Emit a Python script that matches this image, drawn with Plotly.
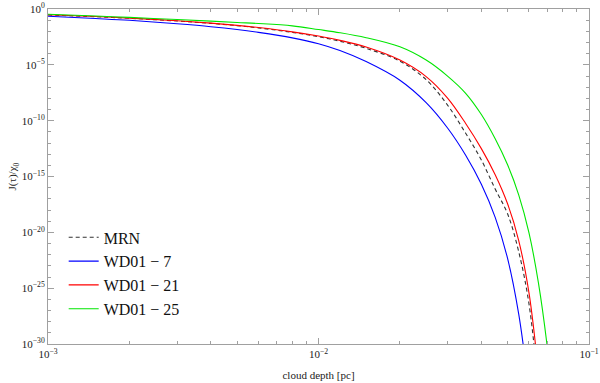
import plotly.graph_objects as go

# cloud depth [pc]
depth = [0.001, 0.0015, 0.002, 0.003, 0.004, 0.005, 0.006, 0.008, 0.01, 0.012,
         0.015, 0.02, 0.025, 0.03, 0.035, 0.04, 0.045, 0.05, 0.055, 0.06, 0.065, 0.07, 0.075]

# log10 of J(tau)/chi0
log_mrn = [-0.538, -0.691, -0.834, -1.076, -1.291, -1.489, -1.695, -2.090, -2.484, -2.888,
           -3.525, -4.673, -6.323, -8.610, -11.130, -13.525, -16.126, -18.341, -21.749, -26.413, -34.036]
log_wd7 = [-0.646, -0.852, -1.013, -1.327, -1.587, -1.839, -2.090, -2.583, -3.112, -3.722,
           -4.709, -6.377, -8.386, -10.655, -13.094, -15.695, -18.664, -22.332, -27.354, -34.215]
log_wd21 = [-0.520, -0.673, -0.816, -1.058, -1.265, -1.462, -1.659, -2.045, -2.422, -2.807,
            -3.408, -4.574, -6.054, -7.982, -10.251, -12.502, -14.843, -17.444, -20.762, -25.426, -32.511]
log_wd25 = [-0.466, -0.628, -0.753, -0.942, -1.085, -1.211, -1.300, -1.507, -1.839, -2.126,
            -2.574, -3.390, -4.574, -6.009, -7.552, -9.453, -11.623, -13.955, -16.664, -20.045,
            -24.511, -30.126, -36.996]

series = [
    ("MRN", log_mrn, "#333333", "4px,3px"),
    ("WD01 \u2212 7", log_wd7, "#0000ff", "solid"),
    ("WD01 \u2212 21", log_wd21, "#ff0000", "solid"),
    ("WD01 \u2212 25", log_wd25, "#00e600", "solid"),
]

y_major = [1, 1e-5, 1e-10, 1e-15, 1e-20, 1e-25, 1e-30]
y_major_text = ["10<sup>0</sup>", "10<sup>\u22125</sup>", "10<sup>\u221210</sup>",
                "10<sup>\u221215</sup>", "10<sup>\u221220</sup>", "10<sup>\u221225</sup>",
                "10<sup>\u221230</sup>"]
x_major = [1e-3, 1e-2, 1e-1]
x_major_text = ["10<sup>\u22123</sup>", "10<sup>\u22122</sup>", "10<sup>\u22121</sup>"]

y_minor = [10.0 ** (-k) for k in range(1, 30) if k % 5 != 0]
x_minor = [m * 10.0 ** e for e in (-3, -2) for m in range(2, 10)]

fig = go.Figure()
for name, logs, color, dash in series:
    xs = depth[:len(logs)]
    ys = [10.0 ** v for v in logs]
    fig.add_trace(go.Scatter(x=xs, y=ys, mode="lines", name=name,
                             line=dict(color=color, width=1.1, dash=dash, shape="spline")))

serif = "Liberation Serif"
axis_common = dict(showline=True, linecolor="#a0a0a0", linewidth=1, mirror="ticks",
                   ticks="inside", ticklen=6, tickcolor="#a0a0a0", showgrid=False,
                   zeroline=False, automargin=False,
                   tickfont=dict(family=serif, size=11, color="#222"))

fig.update_xaxes(type="log", range=[-3, -1], tickvals=x_major, ticktext=x_major_text,
                 minor=dict(tickvals=x_minor, ticks="inside", ticklen=3, tickcolor="#a0a0a0"),
                 title=dict(text="cloud depth [pc]", font=dict(family=serif, size=11, color="#222"),
                            standoff=12),
                 **axis_common)
fig.update_yaxes(type="log", range=[-30, 0], tickvals=y_major, ticktext=y_major_text,
                 minor=dict(tickvals=y_minor, ticks="inside", ticklen=3, tickcolor="#a0a0a0"),
                 title=dict(text="J(\u03c4)/\u03c7<sub>0</sub>", font=dict(family=serif, size=11, color="#222"),
                            standoff=2),
                 **axis_common)

fig.update_layout(
    template="none",
    width=600, height=383,
    margin=dict(l=48, r=11, t=9, b=39),
    plot_bgcolor="white", paper_bgcolor="white",
    legend=dict(x=0.029, y=0.369, xanchor="left", yanchor="top",
                font=dict(family=serif, size=16, color="#111"),
                bgcolor="rgba(0,0,0,0)", tracegroupgap=0),
    showlegend=True,
)

fig.write_html("out.html", config={"displayModeBar": False},
               post_script="document.body.style.margin='0';")
